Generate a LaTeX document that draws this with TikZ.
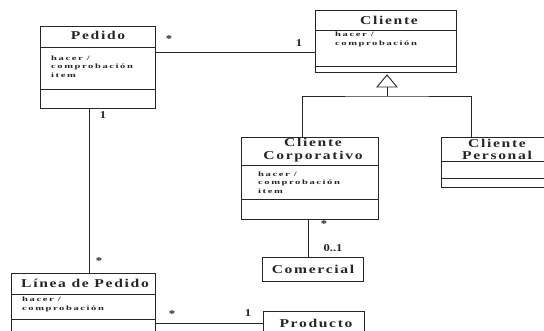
\documentclass[tikz,border=0pt]{standalone}
\usepackage{fontspec}
\setmainfont{Liberation Serif}
\newfontfamily\ttlfont[FakeStretch=1.3,LetterSpace=14]{Liberation Serif}
\newfontfamily\attrfont[FakeStretch=1.6,LetterSpace=24]{Liberation Serif}
\newfontfamily\multfont[FakeStretch=1.2]{Liberation Serif}
\usetikzlibrary{calc}
\definecolor{ink}{HTML}{262626}
\tikzset{
  cls/.style={draw=ink, line width=0.9pt, anchor=north west, inner sep=0pt, outer sep=0pt},
  sep/.style={draw=ink, line width=0.9pt},
  assoc/.style={draw=ink, line width=0.9pt},
  ttl/.style={inner sep=0pt, text=ink, align=center,
    font=\ttlfont\bfseries\fontsize{12}{12.5}\selectfont},
  attr/.style={inner sep=0pt, anchor=north west, text=ink, align=left,
    font=\attrfont\bfseries\fontsize{6.6}{8.5}\selectfont},
  mult/.style={inner sep=0pt, text=ink, font=\multfont\bfseries\fontsize{10.5}{10.5}\selectfont},
}
\begin{document}
\begin{tikzpicture}[x=1pt, y=-1pt]
\useasboundingbox (0,0) rectangle (544,331);
\clip (0,0) rectangle (544,331);

% class boxes
\node[cls, minimum width=115, minimum height=82] (pedido) at (40,26) {};
\node[cls, minimum width=141, minimum height=62] (cliente) at (315,10) {};
\node[cls, minimum width=137, minimum height=82] (corp) at (241,137) {};
\node[cls, minimum width=110, minimum height=50] (personal) at (441,137) {};
\node[cls, minimum width=101, minimum height=24] (comercial) at (262,257) {};
\node[cls, minimum width=144, minimum height=70] (linea) at (11,273) {};
\node[cls, minimum width=101, minimum height=30] (producto) at (263,311) {};

% compartment separators
\draw[sep] (pedido.north west) ++(0,21) -- ++(115,0);
\draw[sep] (pedido.north west) ++(0,63) -- ++(115,0);
\draw[sep] (cliente.north west) ++(0,20) -- ++(141,0);
\draw[sep] (cliente.north west) ++(0,56) -- ++(141,0);
\draw[sep] (corp.north west) ++(0,28) -- ++(137,0);
\draw[sep] (corp.north west) ++(0,62) -- ++(137,0);
\draw[sep] (personal.north west) ++(0,24) -- ++(110,0);
\draw[sep] (personal.north west) ++(0,41) -- ++(110,0);
\draw[sep] (linea.north west) ++(0,21) -- ++(144,0);
\draw[sep] (linea.north west) ++(0,46) -- ++(144,0);

% class names
\node[ttl] (pedidoT) at (98,35.5) {Pedido};
\node[ttl] (clienteT) at (389,20) {Cliente};
\node[ttl] (corpT) at (313,150) {Cliente\\Corporativo};
\node[ttl] (personalT) at (497,149.5) {Cliente\\Personal};
\node[ttl] (comercialT) at (313,269) {Comercial};
\node[ttl] (lineaT) at (85,283.5) {Línea de Pedido};
\node[ttl] (productoT) at (316,323.5) {Producto};

% operations
\node[attr] (pedidoA) at (51,55.5) {hacer /\\comprobación\\item};
\node[attr] (clienteA) at (335,32) {hacer /\\comprobación};
\node[attr] (corpA) at (258,171.5) {hacer /\\comprobación\\item};
\node[attr] (lineaA) at (22,297) {hacer /\\comprobación};

% associations
\coordinate (pc) at ($(pedido.north east)+(0,26)$);
\draw[assoc] (pc) -- (cliente.west |- pc);
\coordinate (pl) at ($(pedido.south west)+(49,0)$);
\draw[assoc] (pl) -- (linea.north -| pl);
\coordinate (cc) at ($(corp.south west)+(67,0)$);
\draw[assoc] (cc) -- (comercial.north -| cc);
\coordinate (lp) at ($(linea.north east)+(0,50)$);
\draw[assoc] (lp) -- (producto.west |- lp);

% generalization
\coordinate (apex) at ($(cliente.south west)+(72,3)$);
\coordinate (tbase) at ($(apex)+(0,12)$);
\coordinate (bus) at ($(apex)+(0,21)$);
\coordinate (busL) at ($(corp.north west)+(61,0)$);
\coordinate (busR) at ($(personal.north west)+(30,0)$);
\draw[assoc, line join=miter] (apex) -- ($(tbase)+(-10,0)$) -- ($(tbase)+(10,0)$) -- cycle;
\draw[assoc] (tbase) -- (bus);
\draw[assoc] (busL) |- (bus) -| (busR);

% multiplicities
\node[mult] (m1) at (169,39) {*};
\node[mult] (m2) at (299,43) {1};
\node[mult] (m3) at (103,115) {1};
\node[mult] (m4) at (99,261) {*};
\node[mult] (m5) at (324,224) {*};
\node[mult] (m6) at (333,248) {0..1};
\node[mult] (m7) at (172,314) {*};
\node[mult] (m8) at (248,313) {1};
\end{tikzpicture}
\end{document}
